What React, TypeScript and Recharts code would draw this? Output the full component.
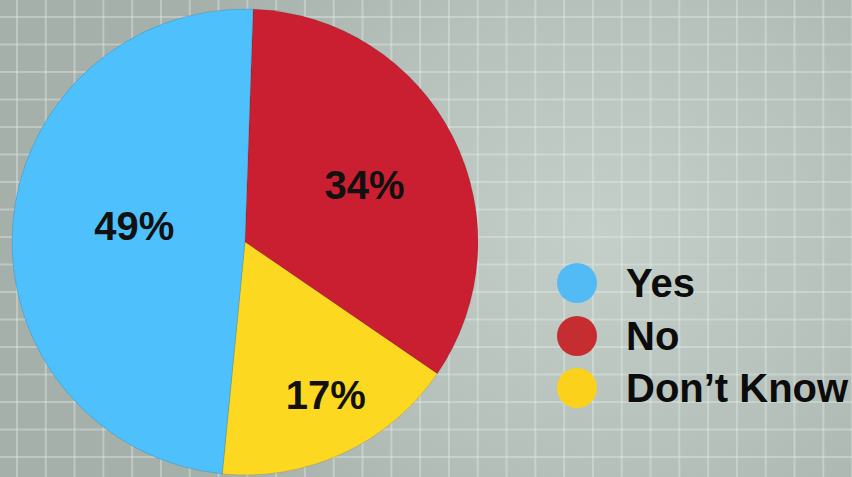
import React from 'react';
import { PieChart, Pie, Cell, Legend } from 'recharts';

// Drawing order (clockwise from the top)
const sliceNames = ['No', "Don\u2019t Know", 'Yes'];
const sliceValues = [34, 17, 49];
const sliceColors = ['#C91F30', '#FDD820', '#4EC0FC'];

// Legend order
const legendNames = ['Yes', 'No', "Don\u2019t Know"];
const legendColors = ['#52BBF6', '#C52D31', '#FCD11C'];

const data = sliceNames.map((name, i) => ({ name, value: sliceValues[i] }));

const CX = 245;
const CY = 242;
const R = 233;
// label placement: fraction of radius, angle tweak (degrees)
const labelPlace: Record<string, [number, number]> = {
  Yes: [0.48, -4.4],
  No: [0.568, -1.3],
  "Don\u2019t Know": [0.741, 2.9],
};

const RAD = Math.PI / 180;

const renderLabel = (props: any) => {
  const { midAngle, percent, name } = props;
  const [f, da] = labelPlace[name] ?? [0.6, 0];
  const r = R * f;
  const a = (midAngle + da) * RAD;
  const x = CX + r * Math.cos(-a);
  const y = CY + r * Math.sin(-a);
  return (
    <text
      x={x}
      y={y}
      textAnchor="middle"
      dominantBaseline="central"
      fill="#111"
      fontFamily="'Liberation Sans', Arial, sans-serif"
      fontWeight="bold"
      fontSize={40}
    >
      {`${Math.round(percent * 100)}%`}
    </text>
  );
};

const renderLegend = () => (
  <div style={{ fontFamily: "'Liberation Sans', Arial, sans-serif" }}>
    {legendNames.map((n, i) => (
      <div key={n} style={{ display: 'flex', alignItems: 'center', height: 52.5 }}>
        <span
          style={{
            display: 'inline-block',
            width: 40,
            height: 40,
            borderRadius: '50%',
            background: legendColors[i],
            marginRight: 29,
          }}
        />
        <span style={{ fontSize: 40, fontWeight: 'bold', color: '#0c0c0c', lineHeight: '40px' }}>{n}</span>
      </div>
    ))}
  </div>
);

export default function App() {
  const bg: React.CSSProperties = {
    position: 'fixed',
    left: 0,
    top: 0,
    width: 852,
    height: 477,
    overflow: 'hidden',
    backgroundColor: '#AEB9B4',
    backgroundImage: [
      'linear-gradient(to right, rgba(230,238,234,0.38) 0px, rgba(230,238,234,0.38) 2px, transparent 2px)',
      'linear-gradient(to bottom, rgba(230,238,234,0.38) 0px, rgba(230,238,234,0.38) 2px, transparent 2px)',
      'radial-gradient(ellipse 480px 420px at 600px 230px, #C4CFCA 0%, #B6C1BC 55%, #A6B0AB 100%)',
    ].join(','),
    backgroundSize: '28.8px 100%, 100% 27.5px, 100% 100%',
    backgroundPosition: '16px 0, 0 16px, 0 0',
    backgroundRepeat: 'repeat-x, repeat-y, no-repeat',
  };
  return (
    <div style={bg}>
      <PieChart width={852} height={477} margin={{ top: 0, right: 0, bottom: 0, left: 0 }}>
        <Pie
          data={data}
          dataKey="value"
          nameKey="name"
          cx={CX}
          cy={CY}
          outerRadius={R}
          startAngle={88}
          endAngle={-272}
          stroke="rgba(0,0,0,0.12)"
          strokeWidth={1}
          label={renderLabel}
          labelLine={false}
          isAnimationActive={false}
        >
          {data.map((d, i) => (
            <Cell key={d.name} fill={sliceColors[i]} />
          ))}
        </Pie>
        <Legend
          content={renderLegend}
          wrapperStyle={{ position: 'absolute', left: 557, top: 257, width: 295, height: 160 }}
        />
      </PieChart>
    </div>
  );
}
